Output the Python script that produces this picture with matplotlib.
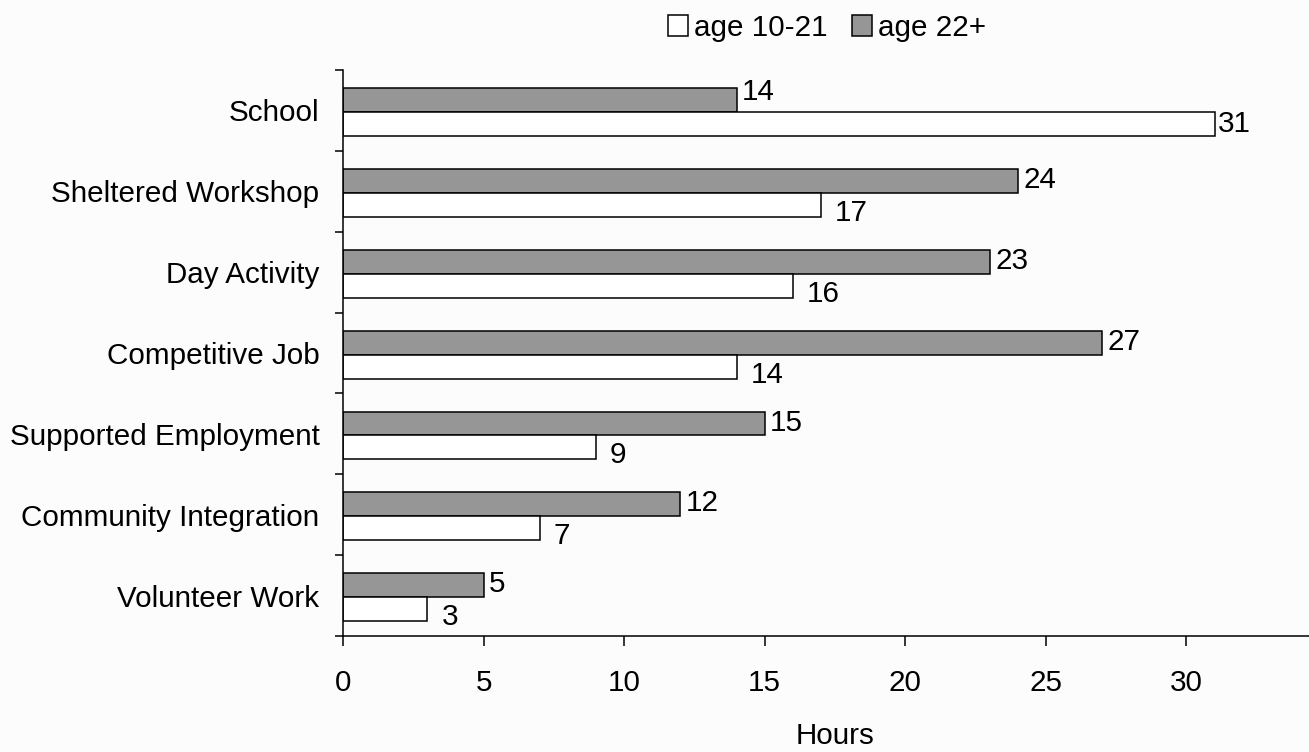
import matplotlib
matplotlib.use("Agg")
import matplotlib.pyplot as plt
import numpy as np
from matplotlib.patches import Patch

categories = ["School", "Sheltered Workshop", "Day Activity", "Competitive Job",
              "Supported Employment", "Community Integration", "Volunteer Work"]
age_10_21 = [31, 17, 16, 14, 9, 7, 3]
age_22_plus = [14, 24, 23, 27, 15, 12, 5]
series_names = ["age 10-21", "age 22+"]
xticks = [0, 5, 10, 15, 20, 25, 30]
xlabel = "Hours"

plt.rcParams['font.family'] = ['Liberation Sans', 'DejaVu Sans']
FS = 21.3
BG = "#fcfcfc"
GRAY = "#969696"

fig = plt.figure(figsize=(13.09, 7.52), dpi=100, facecolor=BG)
ax = fig.add_axes([343/1309, 1 - 636/752, (1327 - 343)/1309, (636 - 70)/752])
ax.set_facecolor(BG)

y = np.arange(len(categories))
h = 0.296
shift = 0.02
bars_g = ax.barh(y - h/2 + shift, age_22_plus, height=h, color=GRAY, edgecolor="black", linewidth=1.1)
bars_w = ax.barh(y + h/2 + shift, age_10_21, height=h, color="white", edgecolor="black", linewidth=1.1)

ax.set_ylim(len(categories) - 0.5, -0.5)
ax.set_xlim(0, 35)

for i, r in enumerate(bars_g):
    dy = 8 if i == 0 else 1
    ax.annotate(str(age_22_plus[i]), (r.get_width(), r.get_y() + r.get_height()/2),
                xytext=(5.5, dy), textcoords="offset pixels", ha="left", va="center", fontsize=FS)
for i, r in enumerate(bars_w):
    dx, dy = (3.5, 0) if i == 0 else (14, -8)
    ax.annotate(str(age_10_21[i]), (r.get_width(), r.get_y() + r.get_height()/2),
                xytext=(dx, dy), textcoords="offset pixels", ha="left", va="center", fontsize=FS)

# ticks
ax.set_xticks(xticks)
ax.set_xticklabels([str(t) for t in xticks], fontsize=FS)
ax.tick_params(axis="x", direction="out", length=7, width=1.1, pad=17, colors="black")

ax.set_yticks(np.arange(len(categories) + 1) - 0.5)
ax.set_yticklabels([])
ax.tick_params(axis="y", which="major", direction="out", length=6, width=1.1)
ax.set_yticks(y, minor=True)
ax.set_yticklabels(categories, minor=True, fontsize=FS)
ax.tick_params(axis="y", which="minor", length=0, pad=17)

for s in ["top", "right"]:
    ax.spines[s].set_visible(False)
for s in ["left", "bottom"]:
    ax.spines[s].set_linewidth(1.1)

ax.set_xlabel(xlabel, fontsize=FS, labelpad=18)

handles = [Patch(facecolor="white", edgecolor="black", linewidth=1.1),
           Patch(facecolor=GRAY, edgecolor="black", linewidth=1.1)]
fig.legend(handles, series_names, loc="center", bbox_to_anchor=(827/1309, 1 - 28/752),
           ncol=2, frameon=False, fontsize=FS, handlelength=0.68, handleheight=0.68,
           handletextpad=0.2, columnspacing=0.85, borderpad=0)

fig.savefig("out.png", dpi=100, facecolor=BG)
